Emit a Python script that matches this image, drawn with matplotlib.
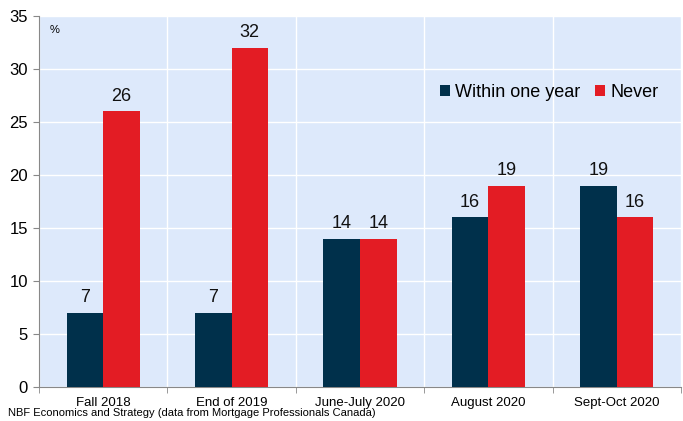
import numpy as np
import matplotlib.pyplot as plt

plt.rcParams['font.family'] = ['Liberation Sans', 'DejaVu Sans']

categories = ['Fall 2018', 'End of 2019', 'June-July 2020', 'August 2020', 'Sept-Oct 2020']
within_one_year = [7, 7, 14, 16, 19]
never = [26, 32, 14, 19, 16]

navy = '#00304b'
red = '#e31c24'
bg = '#dde9fb'

fig = plt.figure(figsize=(6.83, 4.21), dpi=100)
ax = fig.add_axes([0.057, 0.081, 0.940, 0.881])
ax.set_facecolor(bg)

x = np.arange(len(categories))
w = 0.285
b1 = ax.bar(x - w / 2, within_one_year, w, color=navy, label='Within one year', zorder=3)
b2 = ax.bar(x + w / 2, never, w, color=red, label='Never', zorder=3)

for bars, vals in [(b1, within_one_year), (b2, never)]:
    for bar, v in zip(bars, vals):
        ax.text(bar.get_x() + bar.get_width() / 2, v + 0.6, str(v),
                ha='center', va='bottom', fontsize=13, color='#111111')

ax.set_xlim(-0.5, len(categories) - 0.5)
ax.set_ylim(0, 35)
ax.set_yticks(range(0, 36, 5))
ax.set_xticks(x)
ax.set_xticklabels(categories, fontsize=9.5)
ax.set_xticks(np.arange(-0.5, len(categories), 1), minor=True)
ax.tick_params(axis='x', which='major', length=0, pad=7)
ax.tick_params(axis='x', which='minor', length=4, direction='out', color='#888888')
ax.tick_params(axis='y', labelsize=12, length=4, color='#888888', pad=4)

ax.grid(axis='y', color='white', linewidth=1, zorder=1)
ax.grid(axis='x', which='minor', color='white', linewidth=1, zorder=1)

for s in ['top', 'right']:
    ax.spines[s].set_visible(False)
for s in ['left', 'bottom']:
    ax.spines[s].set_color('#888888')

ax.text(0.016, 0.975, '%', transform=ax.transAxes, fontsize=8, va='top', ha='left')

ax.legend(loc='center left', bbox_to_anchor=(0.613, 0.795), ncol=2, frameon=False,
          fontsize=13, handlelength=0.55, handleheight=0.55, handletextpad=0.3,
          columnspacing=0.8, borderaxespad=0)

fig.text(0.012, 0.008, 'NBF Economics and Strategy (data from Mortgage Professionals Canada)',
         fontsize=8, ha='left', va='bottom')

fig.savefig('out.png', dpi=100)
